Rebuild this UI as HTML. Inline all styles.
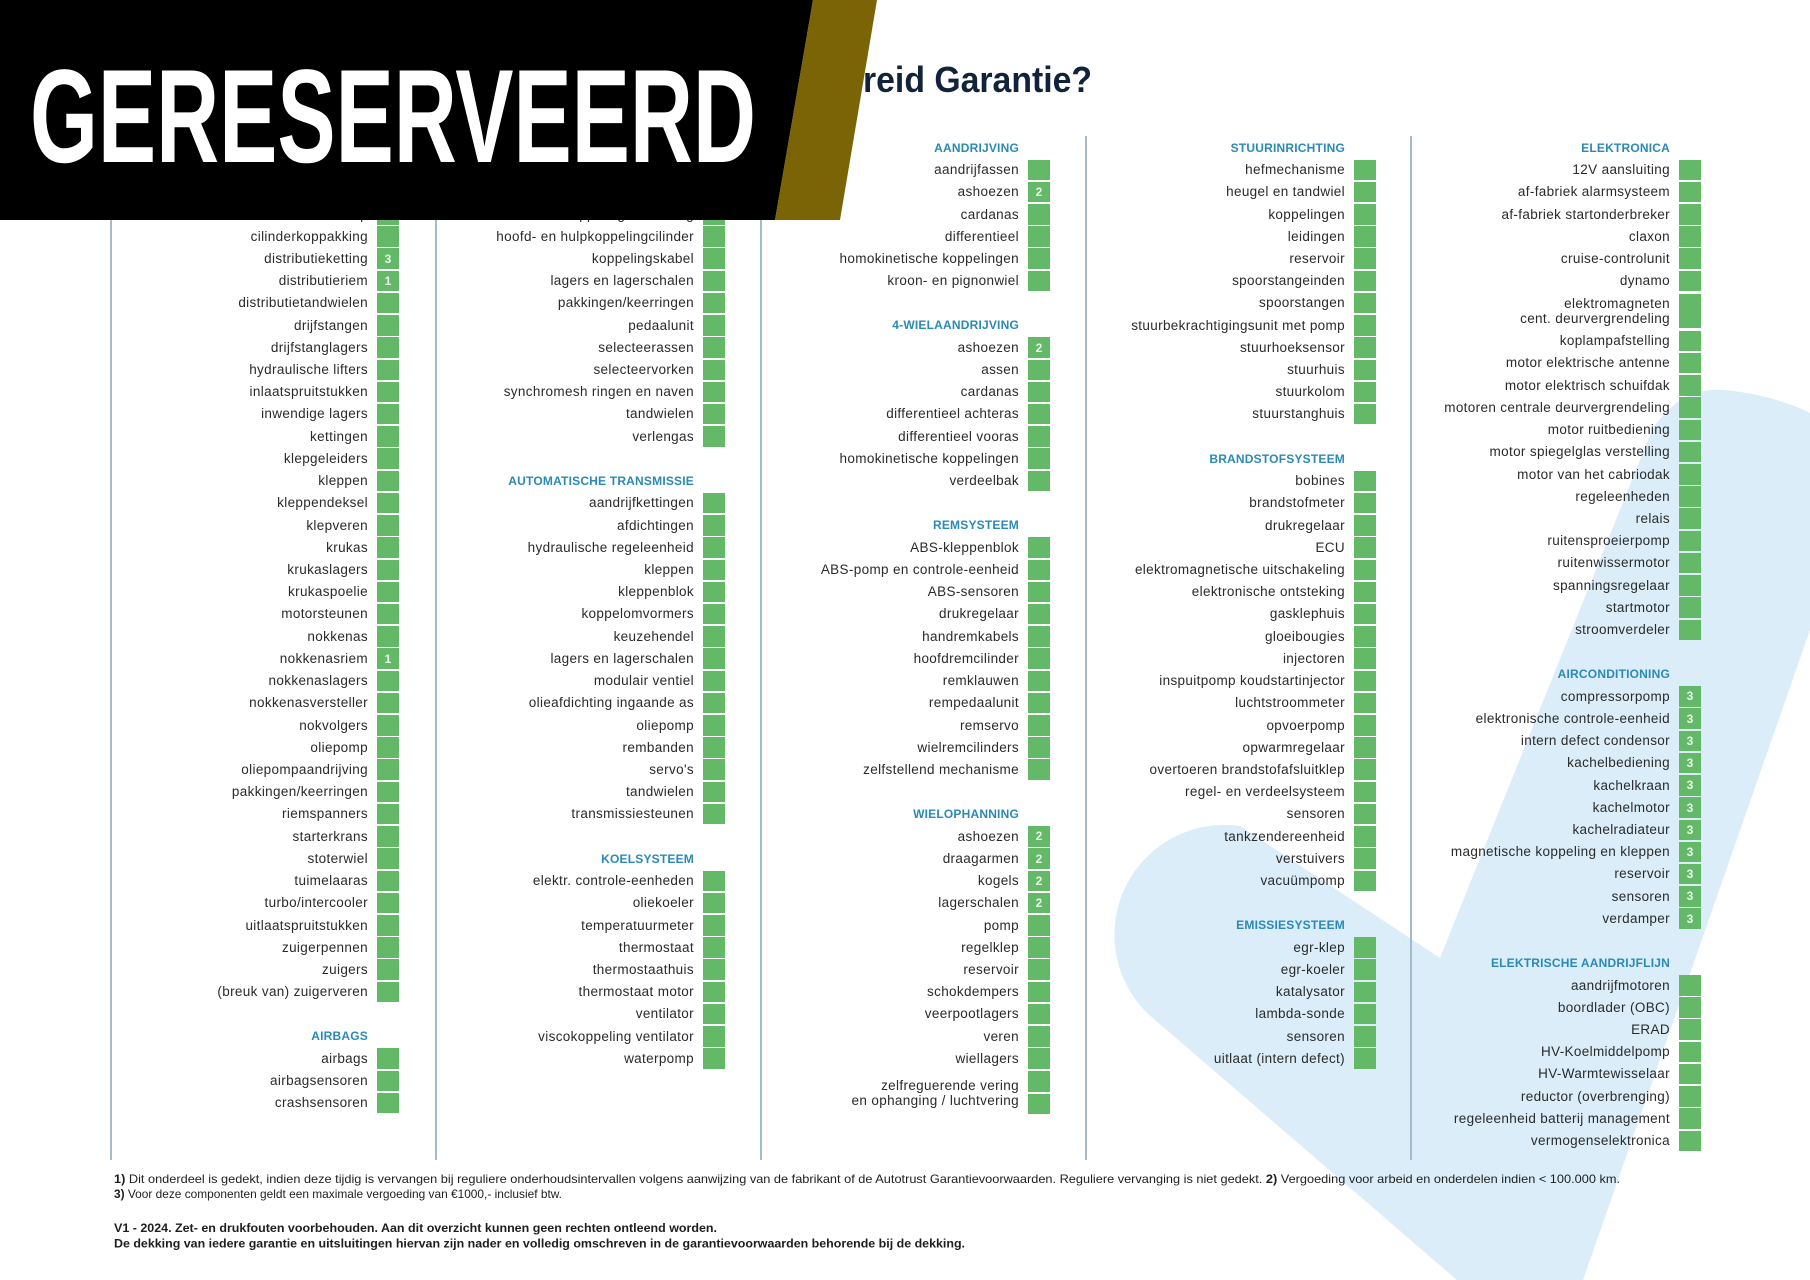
<!DOCTYPE html>
<html>
<head>
<meta charset="utf-8">
<style>
html,body{margin:0;padding:0;}
body{width:1810px;height:1280px;overflow:hidden;background:#fff;position:relative;font-family:"Liberation Sans",sans-serif;}
.bg{position:absolute;left:0;top:0;z-index:0;}
.fg{position:absolute;left:0;top:0;z-index:5;}
.dv{position:absolute;top:136px;height:1024px;width:2px;background:#a3bccb;z-index:1;}
.col{position:absolute;top:136.5px;width:289px;z-index:2;}
.r{height:22.23px;display:flex;justify-content:flex-end;align-items:center;}
.r span{font-size:13.5px;letter-spacing:.35px;color:#2a2a2a;margin-right:9px;white-space:nowrap;line-height:1;position:relative;top:0;text-align:right;}
.r b{width:22px;height:20.5px;background:#64b968;flex:none;color:#eaf7e8;font:bold 12px "Liberation Sans",sans-serif;display:flex;align-items:center;justify-content:center;}
.r .bb{display:flex;flex-direction:column;gap:2px;flex:none;}
.h{height:22.23px;display:flex;justify-content:flex-end;align-items:center;padding-right:31px;font:bold 12px "Liberation Sans",sans-serif;color:#2a8ab5;letter-spacing:.2px;}
.e{height:22.23px;}
</style>
</head>
<body>

<svg class="bg" width="1810" height="1280" viewBox="0 0 1810 1280">
<path d="M1440 958 L1240 826 A110 110 0 0 0 1147 1013 L1457 1280 L1583 1280 L1810 630 L1810 413 C1795 405 1760 393 1725 390 C1700 388 1675 395 1652 430 Z" fill="#daedf8"/>
</svg>

<div class="dv" style="left:110px"></div>
<div class="dv" style="left:435px"></div>
<div class="dv" style="left:760px"></div>
<div class="dv" style="left:1085px"></div>
<div class="dv" style="left:1410px"></div>

<!-- Column 1 -->
<div class="col" style="left:110px">
<div class="h">MOTOR</div>
<div class="r"><span>aandrijfriem</span><b></b></div>
<div class="r"><span>balansassen</span><b></b></div>
<div class="r"><span>cilinderkop</span><b></b></div>
<div class="r"><span>cilinderkoppakking</span><b></b></div>
<div class="r"><span>distributieketting</span><b>3</b></div>
<div class="r"><span>distributieriem</span><b>1</b></div>
<div class="r"><span>distributietandwielen</span><b></b></div>
<div class="r"><span>drijfstangen</span><b></b></div>
<div class="r"><span>drijfstanglagers</span><b></b></div>
<div class="r"><span>hydraulische lifters</span><b></b></div>
<div class="r"><span>inlaatspruitstukken</span><b></b></div>
<div class="r"><span>inwendige lagers</span><b></b></div>
<div class="r"><span>kettingen</span><b></b></div>
<div class="r"><span>klepgeleiders</span><b></b></div>
<div class="r"><span>kleppen</span><b></b></div>
<div class="r"><span>kleppendeksel</span><b></b></div>
<div class="r"><span>klepveren</span><b></b></div>
<div class="r"><span>krukas</span><b></b></div>
<div class="r"><span>krukaslagers</span><b></b></div>
<div class="r"><span>krukaspoelie</span><b></b></div>
<div class="r"><span>motorsteunen</span><b></b></div>
<div class="r"><span>nokkenas</span><b></b></div>
<div class="r"><span>nokkenasriem</span><b>1</b></div>
<div class="r"><span>nokkenaslagers</span><b></b></div>
<div class="r"><span>nokkenasversteller</span><b></b></div>
<div class="r"><span>nokvolgers</span><b></b></div>
<div class="r"><span>oliepomp</span><b></b></div>
<div class="r"><span>oliepompaandrijving</span><b></b></div>
<div class="r"><span>pakkingen/keerringen</span><b></b></div>
<div class="r"><span>riemspanners</span><b></b></div>
<div class="r"><span>starterkrans</span><b></b></div>
<div class="r"><span>stoterwiel</span><b></b></div>
<div class="r"><span>tuimelaaras</span><b></b></div>
<div class="r"><span>turbo/intercooler</span><b></b></div>
<div class="r"><span>uitlaatspruitstukken</span><b></b></div>
<div class="r"><span>zuigerpennen</span><b></b></div>
<div class="r"><span>zuigers</span><b></b></div>
<div class="r"><span>(breuk van) zuigerveren</span><b></b></div>
<div class="e"></div>
<div class="h">AIRBAGS</div>
<div class="r"><span>airbags</span><b></b></div>
<div class="r"><span>airbagsensoren</span><b></b></div>
<div class="r"><span>crashsensoren</span><b></b></div>
</div>

<!-- Column 2 -->
<div class="col" style="left:436px">
<div class="h">HANDGESCHAKELDE TRANSMISSIE</div>
<div class="r"><span>aandrijfassen</span><b></b></div>
<div class="r"><span>drukgroep</span><b></b></div>
<div class="r"><span>koppelingsbediening</span><b></b></div>
<div class="r"><span>hoofd- en hulpkoppelingcilinder</span><b></b></div>
<div class="r"><span>koppelingskabel</span><b></b></div>
<div class="r"><span>lagers en lagerschalen</span><b></b></div>
<div class="r"><span>pakkingen/keerringen</span><b></b></div>
<div class="r"><span>pedaalunit</span><b></b></div>
<div class="r"><span>selecteerassen</span><b></b></div>
<div class="r"><span>selecteervorken</span><b></b></div>
<div class="r"><span>synchromesh ringen en naven</span><b></b></div>
<div class="r"><span>tandwielen</span><b></b></div>
<div class="r"><span>verlengas</span><b></b></div>
<div class="e"></div>
<div class="h">AUTOMATISCHE TRANSMISSIE</div>
<div class="r"><span>aandrijfkettingen</span><b></b></div>
<div class="r"><span>afdichtingen</span><b></b></div>
<div class="r"><span>hydraulische regeleenheid</span><b></b></div>
<div class="r"><span>kleppen</span><b></b></div>
<div class="r"><span>kleppenblok</span><b></b></div>
<div class="r"><span>koppelomvormers</span><b></b></div>
<div class="r"><span>keuzehendel</span><b></b></div>
<div class="r"><span>lagers en lagerschalen</span><b></b></div>
<div class="r"><span>modulair ventiel</span><b></b></div>
<div class="r"><span>olieafdichting ingaande as</span><b></b></div>
<div class="r"><span>oliepomp</span><b></b></div>
<div class="r"><span>rembanden</span><b></b></div>
<div class="r"><span>servo's</span><b></b></div>
<div class="r"><span>tandwielen</span><b></b></div>
<div class="r"><span>transmissiesteunen</span><b></b></div>
<div class="e"></div>
<div class="h">KOELSYSTEEM</div>
<div class="r"><span>elektr. controle-eenheden</span><b></b></div>
<div class="r"><span>oliekoeler</span><b></b></div>
<div class="r"><span>temperatuurmeter</span><b></b></div>
<div class="r"><span>thermostaat</span><b></b></div>
<div class="r"><span>thermostaathuis</span><b></b></div>
<div class="r"><span>thermostaat motor</span><b></b></div>
<div class="r"><span>ventilator</span><b></b></div>
<div class="r"><span>viscokoppeling ventilator</span><b></b></div>
<div class="r"><span>waterpomp</span><b></b></div>
</div>

<!-- Column 3 -->
<div class="col" style="left:761px">
<div class="h">AANDRIJVING</div>
<div class="r"><span>aandrijfassen</span><b></b></div>
<div class="r"><span>ashoezen</span><b>2</b></div>
<div class="r"><span>cardanas</span><b></b></div>
<div class="r"><span>differentieel</span><b></b></div>
<div class="r"><span>homokinetische koppelingen</span><b></b></div>
<div class="r"><span>kroon- en pignonwiel</span><b></b></div>
<div class="e"></div>
<div class="h">4-WIELAANDRIJVING</div>
<div class="r"><span>ashoezen</span><b>2</b></div>
<div class="r"><span>assen</span><b></b></div>
<div class="r"><span>cardanas</span><b></b></div>
<div class="r"><span>differentieel achteras</span><b></b></div>
<div class="r"><span>differentieel vooras</span><b></b></div>
<div class="r"><span>homokinetische koppelingen</span><b></b></div>
<div class="r"><span>verdeelbak</span><b></b></div>
<div class="e"></div>
<div class="h">REMSYSTEEM</div>
<div class="r"><span>ABS-kleppenblok</span><b></b></div>
<div class="r"><span>ABS-pomp en controle-eenheid</span><b></b></div>
<div class="r"><span>ABS-sensoren</span><b></b></div>
<div class="r"><span>drukregelaar</span><b></b></div>
<div class="r"><span>handremkabels</span><b></b></div>
<div class="r"><span>hoofdremcilinder</span><b></b></div>
<div class="r"><span>remklauwen</span><b></b></div>
<div class="r"><span>rempedaalunit</span><b></b></div>
<div class="r"><span>remservo</span><b></b></div>
<div class="r"><span>wielremcilinders</span><b></b></div>
<div class="r"><span>zelfstellend mechanisme</span><b></b></div>
<div class="e"></div>
<div class="h">WIELOPHANNING</div>
<div class="r"><span>ashoezen</span><b>2</b></div>
<div class="r"><span>draagarmen</span><b>2</b></div>
<div class="r"><span>kogels</span><b>2</b></div>
<div class="r"><span>lagerschalen</span><b>2</b></div>
<div class="r"><span>pomp</span><b></b></div>
<div class="r"><span>regelklep</span><b></b></div>
<div class="r"><span>reservoir</span><b></b></div>
<div class="r"><span>schokdempers</span><b></b></div>
<div class="r"><span>veerpootlagers</span><b></b></div>
<div class="r"><span>veren</span><b></b></div>
<div class="r"><span>wiellagers</span><b></b></div>
<div class="r" style="height:46px"><span style="line-height:15px;top:0">zelfreguerende vering<br>en ophanging / luchtvering</span><div class="bb"><b></b><b></b></div></div>
</div>

<!-- Column 4 -->
<div class="col" style="left:1087px">
<div class="h">STUURINRICHTING</div>
<div class="r"><span>hefmechanisme</span><b></b></div>
<div class="r"><span>heugel en tandwiel</span><b></b></div>
<div class="r"><span>koppelingen</span><b></b></div>
<div class="r"><span>leidingen</span><b></b></div>
<div class="r"><span>reservoir</span><b></b></div>
<div class="r"><span>spoorstangeinden</span><b></b></div>
<div class="r"><span>spoorstangen</span><b></b></div>
<div class="r"><span>stuurbekrachtigingsunit met pomp</span><b></b></div>
<div class="r"><span>stuurhoeksensor</span><b></b></div>
<div class="r"><span>stuurhuis</span><b></b></div>
<div class="r"><span>stuurkolom</span><b></b></div>
<div class="r"><span>stuurstanghuis</span><b></b></div>
<div class="e"></div>
<div class="h">BRANDSTOFSYSTEEM</div>
<div class="r"><span>bobines</span><b></b></div>
<div class="r"><span>brandstofmeter</span><b></b></div>
<div class="r"><span>drukregelaar</span><b></b></div>
<div class="r"><span>ECU</span><b></b></div>
<div class="r"><span>elektromagnetische uitschakeling</span><b></b></div>
<div class="r"><span>elektronische ontsteking</span><b></b></div>
<div class="r"><span>gasklephuis</span><b></b></div>
<div class="r"><span>gloeibougies</span><b></b></div>
<div class="r"><span>injectoren</span><b></b></div>
<div class="r"><span>inspuitpomp koudstartinjector</span><b></b></div>
<div class="r"><span>luchtstroommeter</span><b></b></div>
<div class="r"><span>opvoerpomp</span><b></b></div>
<div class="r"><span>opwarmregelaar</span><b></b></div>
<div class="r"><span>overtoeren brandstofafsluitklep</span><b></b></div>
<div class="r"><span>regel- en verdeelsysteem</span><b></b></div>
<div class="r"><span>sensoren</span><b></b></div>
<div class="r"><span>tankzendereenheid</span><b></b></div>
<div class="r"><span>verstuivers</span><b></b></div>
<div class="r"><span>vacuümpomp</span><b></b></div>
<div class="e"></div>
<div class="h">EMISSIESYSTEEM</div>
<div class="r"><span>egr-klep</span><b></b></div>
<div class="r"><span>egr-koeler</span><b></b></div>
<div class="r"><span>katalysator</span><b></b></div>
<div class="r"><span>lambda-sonde</span><b></b></div>
<div class="r"><span>sensoren</span><b></b></div>
<div class="r"><span>uitlaat (intern defect)</span><b></b></div>
</div>

<!-- Column 5 -->
<div class="col" style="left:1412px">
<div class="h">ELEKTRONICA</div>
<div class="r"><span>12V aansluiting</span><b></b></div>
<div class="r"><span>af-fabriek alarmsysteem</span><b></b></div>
<div class="r"><span>af-fabriek startonderbreker</span><b></b></div>
<div class="r"><span>claxon</span><b></b></div>
<div class="r"><span>cruise-controlunit</span><b></b></div>
<div class="r"><span>dynamo</span><b></b></div>
<div class="r" style="height:37.8px"><span style="line-height:15px;top:0">elektromagneten<br>cent. deurvergrendeling</span><b style="height:34px"></b></div>
<div class="r"><span>koplampafstelling</span><b></b></div>
<div class="r"><span>motor elektrische antenne</span><b></b></div>
<div class="r"><span>motor elektrisch schuifdak</span><b></b></div>
<div class="r"><span>motoren centrale deurvergrendeling</span><b></b></div>
<div class="r"><span>motor ruitbediening</span><b></b></div>
<div class="r"><span>motor spiegelglas verstelling</span><b></b></div>
<div class="r"><span>motor van het cabriodak</span><b></b></div>
<div class="r"><span>regeleenheden</span><b></b></div>
<div class="r"><span>relais</span><b></b></div>
<div class="r"><span>ruitensproeierpomp</span><b></b></div>
<div class="r"><span>ruitenwissermotor</span><b></b></div>
<div class="r"><span>spanningsregelaar</span><b></b></div>
<div class="r"><span>startmotor</span><b></b></div>
<div class="r"><span>stroomverdeler</span><b></b></div>
<div class="e"></div>
<div class="h">AIRCONDITIONING</div>
<div class="r"><span>compressorpomp</span><b>3</b></div>
<div class="r"><span>elektronische controle-eenheid</span><b>3</b></div>
<div class="r"><span>intern defect condensor</span><b>3</b></div>
<div class="r"><span>kachelbediening</span><b>3</b></div>
<div class="r"><span>kachelkraan</span><b>3</b></div>
<div class="r"><span>kachelmotor</span><b>3</b></div>
<div class="r"><span>kachelradiateur</span><b>3</b></div>
<div class="r"><span>magnetische koppeling en kleppen</span><b>3</b></div>
<div class="r"><span>reservoir</span><b>3</b></div>
<div class="r"><span>sensoren</span><b>3</b></div>
<div class="r"><span>verdamper</span><b>3</b></div>
<div class="e"></div>
<div class="h">ELEKTRISCHE AANDRIJFLIJN</div>
<div class="r"><span>aandrijfmotoren</span><b></b></div>
<div class="r"><span>boordlader (OBC)</span><b></b></div>
<div class="r"><span>ERAD</span><b></b></div>
<div class="r"><span>HV-Koelmiddelpomp</span><b></b></div>
<div class="r"><span>HV-Warmtewisselaar</span><b></b></div>
<div class="r"><span>reductor (overbrenging)</span><b></b></div>
<div class="r"><span>regeleenheid batterij management</span><b></b></div>
<div class="r"><span>vermogenselektronica</span><b></b></div>
</div>

<svg class="fg" width="1810" height="1280" viewBox="0 0 1810 1280" font-family="Liberation Sans, sans-serif">
<!-- footnotes -->
<text x="114" y="1183" font-size="12" fill="#1e1e1e" textLength="1506" lengthAdjust="spacingAndGlyphs"><tspan font-weight="bold">1)</tspan> Dit onderdeel is gedekt, indien deze tijdig is vervangen bij reguliere onderhoudsintervallen volgens aanwijzing van de fabrikant of de Autotrust Garantievoorwaarden. Reguliere vervanging is niet gedekt. <tspan font-weight="bold">2)</tspan> Vergoeding voor arbeid en onderdelen indien &lt; 100.000 km.</text>
<text x="114" y="1198" font-size="12" fill="#1e1e1e" textLength="448" lengthAdjust="spacingAndGlyphs"><tspan font-weight="bold">3)</tspan> Voor deze componenten geldt een maximale vergoeding van €1000,- inclusief btw.</text>
<text x="114" y="1232" font-size="12" font-weight="bold" fill="#1e1e1e" textLength="603" lengthAdjust="spacingAndGlyphs">V1 - 2024. Zet- en drukfouten voorbehouden. Aan dit overzicht kunnen geen rechten ontleend worden.</text>
<text x="114" y="1247.5" font-size="12" font-weight="bold" fill="#1e1e1e" textLength="851" lengthAdjust="spacingAndGlyphs">De dekking van iedere garantie en uitsluitingen hiervan  zijn  nader en volledig omschreven in de garantievoorwaarden behorende bij de dekking.</text>
<!-- title -->
<text x="863" y="92" font-size="36" font-weight="bold" fill="#10233a" textLength="229" lengthAdjust="spacingAndGlyphs">reid Garantie?</text>
<!-- banner -->
<polygon points="0,0 813,0 775,220 0,220" fill="#000"/>
<polygon points="813,0 877,0 840,220 775,220" fill="#7b6406"/>
<text x="30" y="162" font-size="133" font-weight="bold" fill="#fff" textLength="726" lengthAdjust="spacingAndGlyphs">GERESERVEERD</text>
</svg>

</body>
</html>
